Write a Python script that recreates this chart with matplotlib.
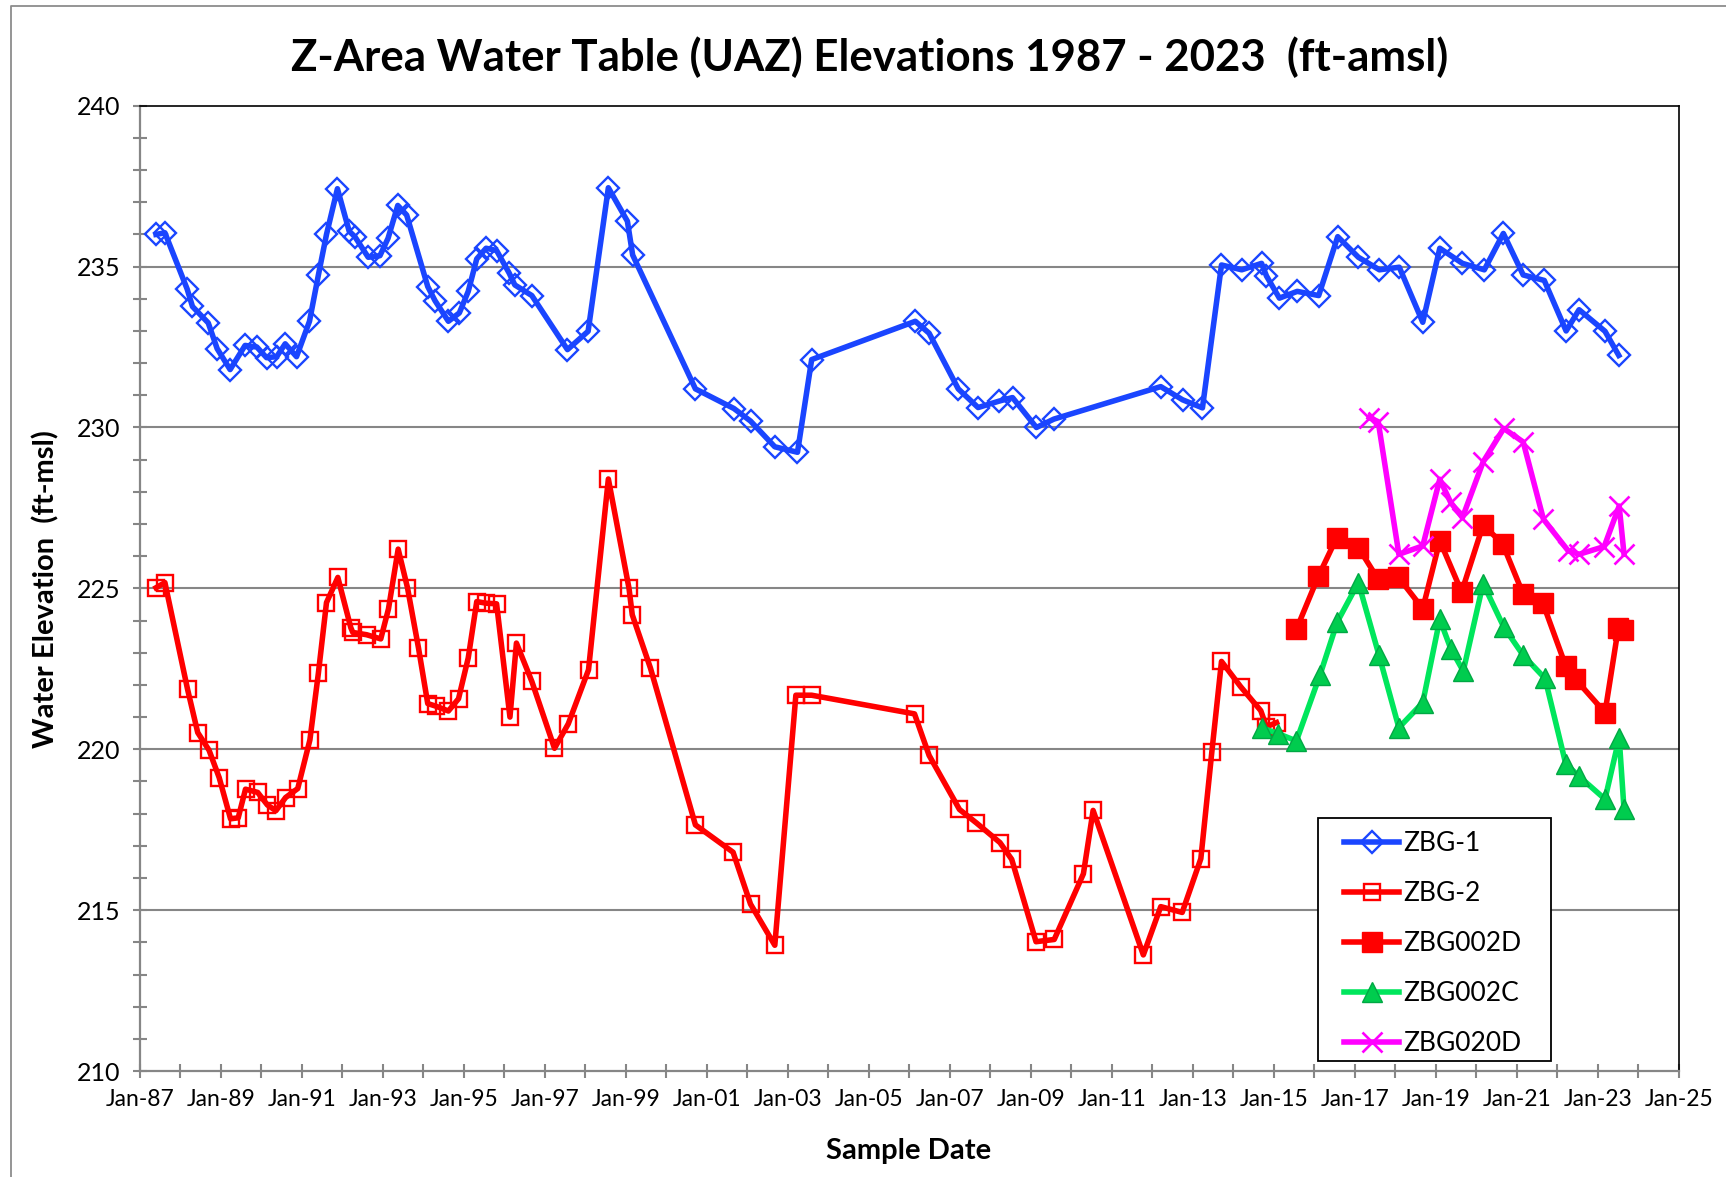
#!/usr/bin/env python3
"""
Z-Area water table (UAZ) elevations, 1987 - 2023.

Sample dates are stored as decimal years, elevations in ft-amsl.
"""

import matplotlib

matplotlib.use("Agg")
import matplotlib.pyplot as plt
from matplotlib.lines import Line2D
from matplotlib.patches import Rectangle
from matplotlib.ticker import MultipleLocator


zbg1_date = [
    1987.40, 1987.62, 1988.17, 1988.30, 1988.69, 1988.91, 1989.23, 1989.60, 1989.89, 1990.13,
    1990.38, 1990.59, 1990.87, 1991.19, 1991.41, 1991.61, 1991.88, 1992.17, 1992.31, 1992.64,
    1992.93, 1993.13, 1993.37, 1993.59, 1994.11, 1994.29, 1994.62, 1994.89, 1995.11, 1995.32,
    1995.55, 1995.81, 1996.12, 1996.26, 1996.68, 1997.56, 1998.07, 1998.57, 1999.04, 1999.17,
    2000.72, 2001.67, 2002.08, 2002.68, 2003.24, 2003.59, 2006.15, 2006.49, 2007.21, 2007.70,
    2008.22, 2008.55, 2009.14, 2009.57, 2012.21, 2012.75, 2013.24, 2013.71, 2014.21, 2014.70,
    2014.82, 2015.14, 2015.58, 2016.11, 2016.58, 2017.09, 2017.61, 2018.10, 2018.68, 2019.10,
    2019.66, 2020.20, 2020.67, 2021.16, 2021.68, 2022.22, 2022.54, 2023.18, 2023.52,
]
zbg1_elev = [
    236.0, 236.05, 234.3, 233.76, 233.25, 232.45, 231.8, 232.55, 232.5, 232.17,
    232.2, 232.6, 232.2, 233.3, 234.74, 236.0, 237.42, 236.1, 235.93, 235.29,
    235.34, 235.88, 236.9, 236.6, 234.38, 233.94, 233.3, 233.56, 234.23, 235.24,
    235.57, 235.5, 234.8, 234.43, 234.1, 232.42, 232.99, 237.45, 236.41, 235.36,
    231.2, 230.59, 230.2, 229.4, 229.23, 232.11, 233.3, 232.93, 231.2, 230.62,
    230.82, 230.93, 230.0, 230.26, 231.27, 230.86, 230.61, 235.05, 234.9, 235.1,
    234.71, 234.02, 234.23, 234.1, 235.93, 235.29, 234.9, 234.98, 233.27, 235.57,
    235.1, 234.9, 236.03, 234.74, 234.57, 233.0, 233.66, 232.99, 232.24,
]

zbg2_date = [
    1987.40, 1987.62, 1988.18, 1988.43, 1988.71, 1988.96, 1989.24, 1989.43, 1989.61, 1989.91,
    1990.15, 1990.36, 1990.60, 1990.90, 1991.20, 1991.41, 1991.61, 1991.89, 1992.21, 1992.26,
    1992.60, 1992.95, 1993.14, 1993.38, 1993.61, 1993.88, 1994.11, 1994.31, 1994.62, 1994.87,
    1995.11, 1995.32, 1995.55, 1995.81, 1996.14, 1996.30, 1996.68, 1997.24, 1997.58, 1998.08,
    1998.57, 1999.08, 1999.16, 1999.61, 2000.72, 2001.65, 2002.08, 2002.68, 2003.20, 2003.59,
    2006.13, 2006.49, 2007.24, 2007.66, 2008.24, 2008.53, 2009.13, 2009.58, 2010.30, 2010.54,
    2011.78, 2012.21, 2012.74, 2013.20, 2013.47, 2013.71, 2014.18, 2014.68, 2014.82, 2015.07,
]
zbg2_elev = [
    225.02, 225.18, 221.86, 220.52, 219.97, 219.12, 217.84, 217.87, 218.76, 218.66,
    218.27, 218.09, 218.5, 218.78, 220.29, 222.37, 224.56, 225.34, 223.78, 223.63,
    223.56, 223.43, 224.36, 226.22, 225.02, 223.16, 221.42, 221.34, 221.19, 221.57,
    222.84, 224.59, 224.54, 224.52, 221.0, 223.3, 222.11, 220.03, 220.79, 222.47,
    228.4, 225.0, 224.18, 222.52, 217.65, 216.8, 215.19, 213.91, 221.68, 221.68,
    221.1, 219.81, 218.13, 217.71, 217.1, 216.58, 214.02, 214.09, 216.13, 218.1,
    213.61, 215.11, 214.93, 216.6, 219.9, 222.73, 221.95, 221.2, 220.7, 220.83,
]

zbg002d_date = [
    2015.56, 2016.10, 2016.55, 2017.09, 2017.58, 2018.07, 2018.68, 2019.10, 2019.64,
    2020.17, 2020.65, 2021.16, 2021.64, 2022.21, 2022.45, 2023.18, 2023.51, 2023.63,
]
zbg002d_elev = [
    223.73, 225.37, 226.56, 226.27, 225.28, 225.36, 224.37, 226.48, 224.89,
    226.97, 226.39, 224.82, 224.56, 222.59, 222.18, 221.14, 223.78, 223.7,
]

zbg002c_date = [
    2014.70, 2015.10, 2015.56, 2016.14, 2016.57, 2017.09, 2017.60, 2018.09, 2018.68, 2019.10,
    2019.37, 2019.68, 2020.17, 2020.68, 2021.16, 2021.70, 2022.21, 2022.53, 2023.18, 2023.53,
    2023.65,
]
zbg002c_elev = [
    220.67, 220.49, 220.26, 222.3, 223.96, 225.18, 222.92, 220.67, 221.45, 224.04,
    223.13, 222.43, 225.15, 223.8, 222.92, 222.2, 219.55, 219.17, 218.45, 220.36,
    218.13,
]

zbg020d_date = [
    2017.36, 2017.58, 2018.09, 2018.68, 2019.10, 2019.37, 2019.66, 2020.17,
    2020.68, 2021.16, 2021.66, 2022.27, 2022.54, 2023.16, 2023.53, 2023.65,
]
zbg020d_elev = [
    230.31, 230.18, 226.06, 226.32, 228.39, 227.67, 227.2, 228.93,
    229.97, 229.55, 227.15, 226.17, 226.06, 226.3, 227.56, 226.06,
]

x_tick_years = list(range(1987, 2026, 2))
x_tick_labels = [f"Jan-{y % 100:02d}" for y in x_tick_years]
y_ticks = [210, 215, 220, 225, 230, 235, 240]

FONT = ["Lato", "DejaVu Sans"]
GRAY = "#868686"

plt.rcParams["font.family"] = FONT

fig = plt.figure(figsize=(17.26, 11.77), dpi=100)
ax = fig.add_axes([0.081, 0.09, 0.8916, 0.8202])

lw = 4.0
ax.plot(zbg1_date, zbg1_elev, color="#1a45ff", lw=lw, marker="D", ms=11.5,
        mfc="none", mec="#1a45ff", mew=1.7, label="ZBG-1", zorder=3)
ax.plot(zbg2_date, zbg2_elev, color="#ff0000", lw=lw, marker="s", ms=12,
        mfc="none", mec="#ff0000", mew=1.7, label="ZBG-2", zorder=3)
ax.plot(zbg002d_date, zbg002d_elev, color="#ff0000", lw=lw, marker="s", ms=14,
        mfc="#ff0000", mec="#ff0000", label="ZBG002D", zorder=3)
ax.plot(zbg002c_date, zbg002c_elev, color="#00e65c", lw=lw, marker="^", ms=14,
        mfc="#00cc4e", mec="#00a844", mew=1.0, label="ZBG002C", zorder=3)
ax.plot(zbg020d_date, zbg020d_elev, color="#ff00ff", lw=lw, marker="x", ms=15,
        mec="#ff00ff", mew=1.9, label="ZBG020D", zorder=3)

ax.set_xlim(1987, 2025)
ax.set_ylim(210, 240)

ax.set_xticks(x_tick_years)
ax.set_xticklabels(x_tick_labels)
ax.xaxis.set_minor_locator(MultipleLocator(1))
ax.set_yticks(y_ticks)
ax.yaxis.set_minor_locator(MultipleLocator(1))

ax.tick_params(axis="both", which="both", direction="inout", color=GRAY, width=1.5)
ax.tick_params(axis="both", which="major", length=9.5)
ax.tick_params(axis="both", which="minor", length=9.5)
ax.tick_params(axis="x", labelsize=16.5, pad=8)
ax.tick_params(axis="y", labelsize=18, pad=9)

for side in ("left", "bottom"):
    ax.spines[side].set_color(GRAY)
    ax.spines[side].set_linewidth(1.6)
for side in ("top", "right"):
    ax.spines[side].set_color("black")
    ax.spines[side].set_linewidth(1.2)

for y in y_ticks[1:-1]:
    ax.axhline(y, color=GRAY, lw=1.5, zorder=1)

# legend: entries without frame, box drawn separately to match the padding
leg = ax.legend(loc="upper left", bbox_to_anchor=(0.7825, 0.2485), frameon=False,
                fontsize=19, borderpad=0, borderaxespad=0, handlelength=2.1,
                handletextpad=0.15, labelspacing=0.95)
leg.set_zorder(6)
ax.add_patch(Rectangle((0.7656, 0.0105), 0.1514, 0.2517, transform=ax.transAxes,
                       facecolor="white", edgecolor="black", lw=1.3, zorder=5))

fig.text(0.504, 0.951, "Z-Area Water Table (UAZ) Elevations 1987 - 2023  (ft-amsl)",
         ha="center", va="center", fontsize=31.5, fontweight="bold")
fig.text(0.0267, 0.4996, "Water Elevation  (ft-msl)", rotation=90,
         ha="center", va="center", fontsize=21, fontweight="bold")
fig.text(0.5266, 0.0221, "Sample Date", ha="center", va="center",
         fontsize=21, fontweight="bold")

# outer chart border (top and left edges visible)
fig.add_artist(Line2D([0.0064, 0.0064, 1.0], [0.0, 0.9949, 0.9949],
                      transform=fig.transFigure, color="#8c8c8c", lw=1.3))

fig.savefig("out.png", dpi=100)
